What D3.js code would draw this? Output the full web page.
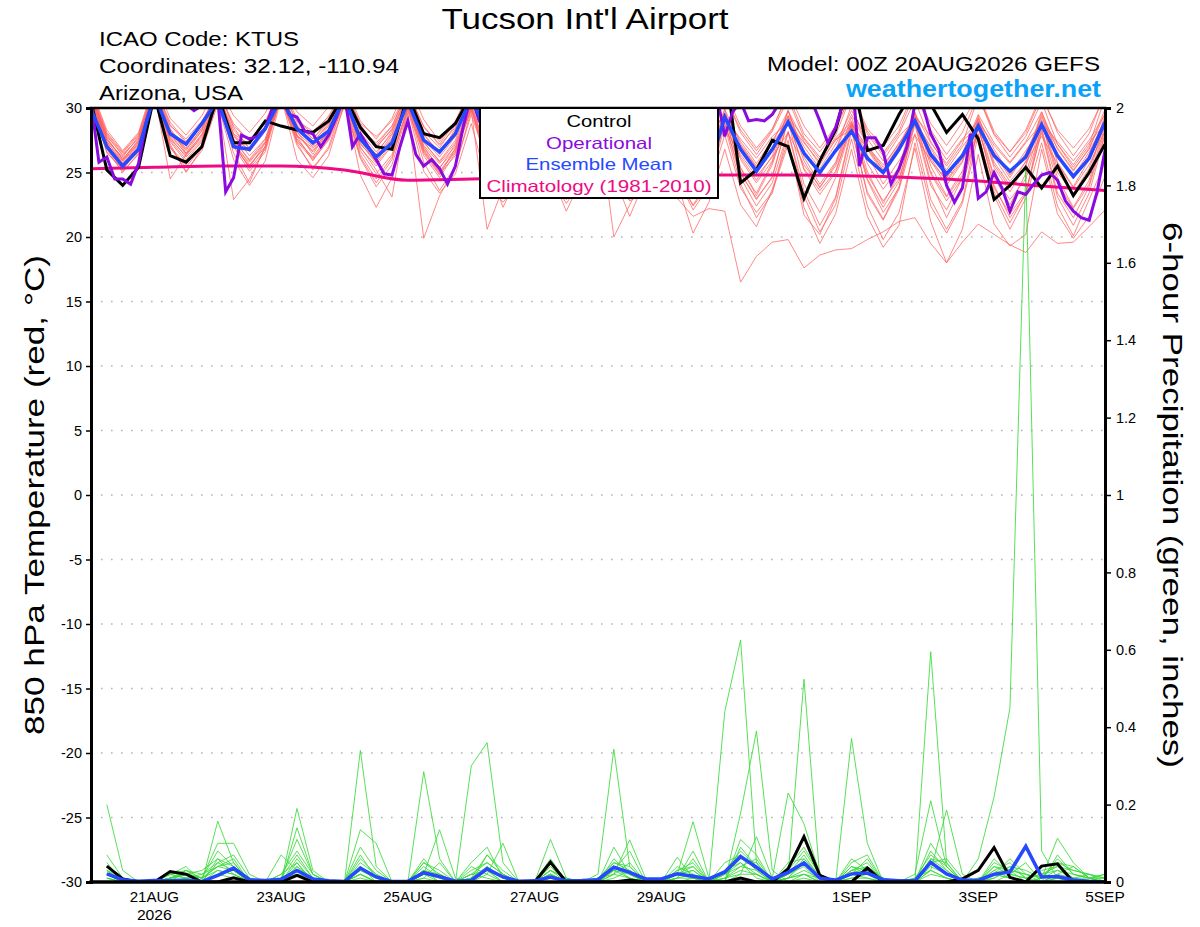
<!DOCTYPE html>
<html>
<head>
<meta charset="utf-8">
<script src="https://cdn.jsdelivr.net/npm/d3@7"></script>
<style>
body { margin: 0; background: #fff; }
svg { font-family: 'Liberation Sans', Arial, Helvetica, sans-serif; }
</style>
</head>
<body>
<svg id="chart" width="1200" height="927"></svg>
<script>
'use strict';

// 850 hPa temperature, 6-hourly from 00Z 20AUG2026 (65 steps), degC
var tMem01 = [31.2,27.8,26.4,27.6, 31.5,28.6,27.6,29.0, 31.0,28.0,27.2,28.9, 31.4,29.0,28.2,29.3, 31.1,28.4,27.3,28.6, 31.3,28.2,26.9,28.7, 31.0,28.8,27.5,29.0, 30.8,28.1,26.8,28.4, 30.6,27.9,26.3,28.0, 31.0,28.3,26.9,28.5, 29.2,27.6,26.1,27.8, 28.9,27.3,25.8,27.5, 28.7,27.0,25.6,27.2, 29.4,27.8,26.0,27.6, 29.0,27.1,25.7,27.3, 28.8,27.4,25.9,27.5, 29.5];
var tMem02 = [30.8,26.9,25.2,26.8, 31.0,27.2,25.0,26.9, 30.6,26.5,24.2,27.1, 31.2,28.2,26.4,28.3, 31.0,27.5,25.8,27.6, 30.7,27.0,25.3,27.2, 30.2,26.6,24.9,26.9, 30.5,27.3,25.6,27.5, 30.9,27.6,25.2,27.0, 30.3,26.8,24.7,26.6, 29.6,26.2,24.4,26.3, 29.8,26.5,24.8,26.7, 30.2,27.0,25.2,27.1, 29.4,25.9,24.0,25.8, 29.0,25.6,23.8,25.9, 29.7,26.3,24.5,26.4, 29.2];
var tMem03 = [31.0,27.4,25.9,27.3, 31.3,28.0,26.8,28.2, 31.0,27.8,26.7,28.5, 30.9,28.1,27.0,28.4, 31.2,27.7,26.2,27.9, 30.6,26.9,25.4,26.8, 30.1,26.0,24.2,25.8, 29.4,25.5,23.9,25.0, 28.6,24.3,22.8,23.5, 27.8,23.0,21.6,22.2, 22.0,16.5,18.5,19.6, 19.8,17.6,18.6,19.0, 19.1,19.8,20.4,21.2, 21.5,19.5,18.0,19.6, 21.0,20.2,19.4,18.8, 20.4,19.5,19.6,20.8, 22.1];
var tMem04 = [30.6,27.1,25.6,27.0, 30.9,27.5,26.0,27.4, 30.4,22.9,24.5,26.9, 31.0,27.8,25.9,27.6, 30.8,24.8,22.3,24.6, 29.6,19.9,23.2,25.4, 29.8,20.6,23.8,26.0, 28.9,24.8,22.9,25.6, 29.5,20.0,22.5,24.8, 28.6,24.2,20.3,22.7, 26.8,22.5,20.8,23.7, 27.5,21.7,20.2,23.0, 28.2,23.5,21.4,23.9, 28.7,24.0,22.1,24.6, 28.0,23.2,20.6,23.0, 27.3,22.4,20.1,22.9, 25.8];
var tMem05 = [31.5,28.3,26.7,28.1, 32.0,29.2,27.9,29.4, 31.8,29.4,28.1,29.6, 32.1,29.7,28.6,30.1, 31.9,29.0,27.6,29.2, 32.0,29.1,27.4,29.0, 31.6,28.9,27.0,28.8, 31.2,28.5,27.1,29.0, 31.4,28.7,27.0,28.9, 31.6,29.0,27.2,29.1, 31.3,28.6,26.9,28.4, 31.0,28.0,26.6,28.3, 31.2,28.4,27.0,28.6, 31.4,28.8,27.1,28.9, 31.1,28.2,26.6,28.1, 30.9,28.3,26.9,28.4, 31.0];
var tMem06 = [30.9,27.3,25.4,26.6, 31.2,24.5,26.4,27.9, 31.0,27.6,25.9,27.4, 31.3,27.9,26.6,28.1, 30.8,27.0,25.2,23.1, 30.3,26.5,24.8,26.9, 30.6,27.2,25.5,27.3, 30.2,26.8,25.0,26.7, 30.0,26.3,24.2,26.1, 29.7,26.0,24.0,25.8, 29.9,25.4,23.2,25.6, 29.4,25.9,23.8,25.7, 29.0,25.1,22.6,24.9, 29.6,25.5,23.2,25.1, 29.2,25.4,23.5,25.6, 29.5,25.8,23.9,26.0, 29.4];
var tMem07 = [31.1,27.6,26.1,27.4, 31.4,28.3,27.1,28.7, 31.2,27.9,26.3,27.6, 31.0,28.5,27.3,28.8, 31.3,28.1,26.6,28.0, 30.9,27.6,26.2,27.8, 31.0,27.9,26.5,28.1, 30.7,27.5,25.9,27.3, 30.9,27.2,25.6,27.4, 30.6,27.8,26.2,27.9, 29.6,27.4,25.7,27.5, 29.3,27.0,25.3,27.2, 29.8,27.6,25.9,27.8, 29.1,26.9,24.6,26.5, 29.5,27.3,25.8,27.4, 29.7,26.8,25.1,26.9, 29.9];
var tMem08 = [30.7,27.0,25.8,27.2, 31.1,27.7,26.2,27.5, 30.8,27.4,25.6,27.0, 31.0,27.6,26.1,27.7, 30.5,26.7,24.9,26.4, 30.1,25.8,23.6,25.5, 29.5,25.9,22.3,24.8, 29.8,26.2,24.5,26.4, 29.3,25.6,23.9,25.9, 29.6,26.0,24.4,26.2, 29.2,25.3,23.4,25.8, 29.0,24.1,21.9,24.6, 28.6,24.8,22.8,24.5, 28.9,24.3,21.5,24.0, 28.4,24.6,22.5,24.9, 28.8,25.0,23.4,25.3, 28.7];
var tMem09 = [31.3,28.0,26.5,27.9, 31.6,28.9,27.4,28.8, 31.4,28.6,27.5,29.0, 31.6,29.2,27.9,29.4, 31.5,28.8,27.8,29.0, 31.2,28.6,27.1,28.5, 31.3,28.4,26.8,28.6, 31.0,27.9,26.4,28.0, 31.1,28.2,26.6,28.3, 30.8,27.5,25.8,27.6, 31.0,28.1,26.4,28.2, 30.7,27.7,26.2,27.9, 31.0,28.0,26.3,28.0, 30.6,27.4,25.5,27.2, 30.9,27.9,26.2,27.8, 30.5,27.2,25.4,27.1, 30.8];
var tMem10 = [30.5,26.8,25.0,26.5, 30.8,26.9,25.4,27.0, 30.7,27.0,25.1,26.6, 30.9,26.0,24.6,26.3, 30.4,26.4,24.5,26.2, 29.9,25.1,23.4,24.9, 28.8,24.2,22.7,24.0, 29.2,25.0,22.0,24.6, 29.0,24.7,22.9,24.8, 28.5,24.4,22.5,24.3, 28.9,24.6,22.4,24.2, 28.2,23.6,20.9,23.1, 28.5,23.3,21.3,23.7, 28.0,22.9,20.6,22.8, 28.6,23.8,21.8,23.5, 28.1,23.1,20.9,23.4, 27.9];
var tMem11 = [31.0,27.5,26.2,27.8, 31.3,28.1,26.9,28.4, 31.1,28.3,26.9,28.3, 31.2,28.7,27.6,28.9, 31.4,28.3,27.0,28.3, 31.0,27.9,26.6,28.2, 30.8,27.4,26.0,27.6, 31.1,27.7,26.3,27.9, 30.7,27.0,25.3,27.2, 30.9,27.4,25.9,27.4, 28.6,27.1,25.4,26.9, 29.4,27.6,26.0,27.7, 28.9,26.8,24.9,26.6, 29.6,27.3,25.7,27.5, 28.4,26.6,24.8,26.4, 29.3,27.2,25.6,27.3, 28.8];
var tMem12 = [30.8,27.2,25.5,26.9, 31.0,27.4,25.8,27.1, 30.9,27.2,25.4,27.3, 31.1,27.3,25.2,27.0, 30.7,26.9,25.5,27.1, 30.5,26.7,25.0,26.6, 30.2,26.3,24.6,26.5, 30.4,26.9,25.2,26.8, 30.1,26.5,24.8,26.4, 30.3,26.9,25.3,27.0, 28.4,26.4,24.7,26.2, 28.1,25.6,23.9,25.5, 28.8,26.4,24.1,25.9, 27.9,25.9,24.4,26.1, 28.3,26.2,24.3,25.8, 27.8,25.7,23.8,25.6, 28.2];
var tMem13 = [30.9,27.4,25.7,27.1, 31.2,27.8,26.5,27.6, 30.9,27.5,26.0,27.6, 31.2,27.8,26.9,28.1, 31.0,27.2,25.9,27.4, 30.6,27.1,25.7,27.0, 30.4,26.5,24.9,26.2, 29.9,25.4,23.4,25.3, 29.1,24.8,21.6,24.5, 28.7,24.6,22.1,23.9, 27.9,23.8,21.9,23.5, 27.2,22.3,19.5,21.8, 26.8,21.6,19.2,20.9, 27.3,22.4,20.3,22.6, 27.9,23.5,21.1,23.4, 28.3,23.4,21.5,23.9, 28.0];
var tMem14 = [31.4,28.1,26.6,28.0, 31.7,28.7,27.3,28.9, 31.3,28.8,27.4,28.8, 31.5,28.9,27.6,29.1, 31.6,28.7,27.1,28.6, 31.4,28.5,27.2,28.9, 31.5,28.8,27.3,28.7, 31.2,28.4,26.9,28.4, 31.3,28.5,26.8,28.6, 31.4,28.6,27.0,28.9, 31.0,28.3,26.7,28.3, 31.3,28.6,26.9,28.6, 31.0,28.2,26.5,28.2, 31.2,28.3,26.4,28.1, 31.0,28.0,26.6,28.3, 31.1,28.1,26.3,28.0, 31.2];
var tMem15 = [30.6,26.5,25.3,27.0, 30.7,27.0,25.1,26.7, 30.3,26.0,24.0,25.9, 30.8,27.1,25.4,26.8, 30.2,26.1,23.9,25.6, 29.8,26.6,24.9,26.3, 30.0,25.5,23.4,25.0, 29.5,24.6,22.6,24.4, 29.7,25.2,23.6,25.5, 29.3,25.7,24.0,25.4, 29.5,25.0,22.9,24.7, 29.1,25.2,23.3,25.0, 28.8,24.4,21.9,23.8, 29.0,24.9,22.8,24.6, 28.5,24.0,21.5,23.3, 28.9,24.6,22.3,24.4, 28.6];
var tMem16 = [31.1,27.9,26.3,27.7, 31.5,28.4,26.5,28.3, 31.2,28.0,26.6,28.2, 31.3,28.4,27.1,28.6, 31.1,27.8,26.4,28.2, 30.9,27.3,25.9,27.5, 31.1,27.6,26.2,27.8, 30.6,27.0,25.3,27.1, 30.8,27.3,25.6,27.0, 30.5,26.9,25.1,26.9, 29.9,27.2,25.5,27.4, 28.7,26.6,24.9,26.7, 29.5,27.1,25.4,27.3, 28.8,26.4,24.6,26.3, 29.2,26.8,24.9,26.7, 28.5,26.5,24.7,26.6, 29.0];
var tMem17 = [30.7,27.1,25.9,27.3, 31.0,27.6,26.3,27.8, 30.6,27.0,25.5,27.0, 30.9,27.5,26.2,27.9, 30.6,27.3,25.7,27.2, 30.2,26.8,25.1,26.7, 29.9,26.2,24.5,25.9, 29.6,25.7,23.8,25.1, 29.3,25.3,23.0,24.9, 29.0,24.7,22.4,24.1, 28.6,24.1,21.5,23.4, 28.1,23.2,20.4,22.5, 27.6,22.4,19.8,21.9, 26.9,21.2,18.0,20.6, 26.4,21.0,19.3,20.2, 26.8,21.8,19.9,21.6, 24.7];
var tMem18 = [31.2,27.7,26.0,27.5, 31.4,28.2,26.7,28.5, 31.5,28.5,26.8,28.6, 31.1,28.6,27.4,28.7, 31.3,28.5,26.9,28.4, 31.1,28.0,26.4,28.4, 30.9,28.2,26.6,28.3, 30.8,27.8,26.0,27.9, 30.5,27.4,25.8,27.7, 30.8,27.7,26.1,28.0, 29.4,27.0,25.3,27.3, 29.8,27.4,25.6,27.6, 28.3,26.9,25.1,27.0, 29.0,27.0,25.2,27.0, 28.6,26.5,24.6,26.5, 29.1,26.9,25.2,26.8, 29.6];
var tMem19 = [30.4,26.6,25.1,26.4, 30.6,27.0,25.6,27.2, 30.5,27.1,25.8,27.3, 30.7,27.4,26.0,27.5, 30.3,26.2,24.2,26.0, 30.1,26.3,24.6,26.5, 29.9,25.8,23.9,25.6, 30.0,26.1,24.3,25.9, 29.6,25.4,23.3,25.2, 29.4,25.2,23.5,25.5, 28.8,24.9,23.0,24.6, 29.1,25.3,23.6,25.1, 28.7,24.5,22.3,24.3, 29.2,25.0,23.1,24.8, 28.9,24.7,22.9,24.5, 28.4,24.2,22.2,24.1, 28.3];
var tMem20 = [31.0,27.6,26.0,27.5, 31.2,28.0,26.4,28.0, 30.8,27.3,25.3,26.8, 31.1,27.9,26.7,28.3, 30.9,27.8,26.1,27.7, 30.6,27.4,25.8,27.3, 30.7,27.1,25.4,27.0, 30.3,26.6,24.7,26.2, 30.4,26.8,25.1,26.6, 30.0,26.3,24.5,26.1, 29.5,26.0,24.2,25.9, 29.8,26.2,24.1,25.8, 29.3,25.7,23.7,25.4, 29.7,26.1,24.3,25.9, 29.4,25.8,24.0,25.5, 29.0,25.3,23.2,24.8, 29.1];
var tempMembers = [tMem01, tMem02, tMem03, tMem04, tMem05, tMem06, tMem07, tMem08, tMem09, tMem10,
  tMem11, tMem12, tMem13, tMem14, tMem15, tMem16, tMem17, tMem18, tMem19, tMem20];

var tempControl = [30.5,25.2,24.0,25.4, 31.0,26.3,25.8,27.0, 31.0,27.3,27.3,29.0, 28.6,28.3,28.1,29.0, 31.0,28.5,27.0,26.8, 31.0,28.0,27.7,28.8, 31.0,29.0,27.8,28.6, 31.0,28.3,27.5,28.9, 31.0,28.0,27.2,28.5, 31.0,28.1,27.0,28.4, 33.5,24.2,25.2,27.5, 27.0,23.0,25.9,28.3, 33.0,26.7,27.1,29.5, 31.5,30.3,28.1,29.5, 27.6,22.9,24.0,25.4, 23.8,25.5,23.2,25.0, 27.2];
var tempMean = [29.9,27.0,25.5,26.8, 31.0,28.0,27.2,28.8, 30.6,27.0,26.8,28.4, 30.8,28.4,27.3,28.2, 30.8,27.6,26.2,27.3, 30.5,27.5,26.6,28.0, 30.8,28.0,26.9,28.2, 30.4,27.8,26.6,28.0, 30.2,27.6,26.4,27.9, 30.0,27.5,26.0,25.2, 29.3,26.8,25.1,26.8, 28.9,26.5,25.0,26.7, 28.2,26.1,25.0,26.8, 29.0,26.4,24.9,26.3, 28.6,26.3,25.1,26.2, 28.7,26.3,24.7,26.1, 28.9];
// operational run is 3-hourly (129 steps)
var tempOper = [30.5,25.8,26.2,24.5,24.5,24.1,25.7,29.0, 31.0,31.2,30.8,30.6,30.3,29.8,30.2,30.6,
  30.8,23.5,24.6,27.9,27.6,27.8,28.4,30.2, 31.0,29.5,29.3,28.2,28.0,27.0,27.9,29.3,
  31.0,27.0,28.0,27.0,26.0,24.9,24.8,27.0, 29.0,26.4,25.5,26.0,25.3,24.1,25.5,28.6,
  31.0,29.0,28.1,27.4,26.8,27.9,30.3,30.8, 29.2,28.0,27.1,27.6,28.9,30.6,31.0,29.6,
  28.3,27.5,26.9,28.0,29.5,30.7,30.9,29.4, 28.2,27.3,26.6,27.8,29.1,30.4,29.5,31.0,
  27.8,29.7,30.5,29.0,29.1,29.0,29.5,30.5, 31.0,31.2,30.6,30.5,29.0,27.3,28.5,30.5,
  33.0,25.5,27.7,27.7,26.6,24.1,25.3,27.0, 30.3,30.2,28.0,26.8,24.0,22.7,23.8,28.0,
  23.0,23.5,25.0,23.8,22.0,23.5,23.3,24.1, 24.8,25.0,24.4,22.8,22.0,21.5,21.3,23.5,
  26.7];
// 1981-2010 climatology, daily at 00Z
var tempClim = [25.3,25.4,25.5,25.5,25.2,24.4,24.5,24.6,24.7,24.8,24.8,24.8,24.75,24.6,24.35,23.95,23.6];

// 6-hour precipitation (inches), 64 steps ending 06Z 20AUG .. 00Z 5SEP
var pMem01 = [.20,.03,0,0,.01,.02,.03,.06, .02,0,0,.01,.11,.02,0,0, .09,.03,0,0,.02,0,0,.01, .03,0,0,0,.01,0,0,.02, .343,.04,0,0,0,.01,0,.02, .05,.02,0,.01,.06,.01,0,.02, .01,0,0,.02,.21,.04,0,0, .02,.01,0,0,.01,0,0,0];
var pMem02 = [.07,.01,0,0,.02,.01,0,.157, .05,0,0,0,.19,.03,0,0, .02,0,0,0,.285,.06,0,0, .07,.02,0,0,.02,0,0,.01, .02,.109,.01,0,.02,.01,0,0, .178,.39,.03,0,.01,0,0,.03, .02,0,0,0,.03,.01,0,0, 0,.02,.05,0,.02,.01,0,0];
var pMem03 = [.05,0,0,0,.01,.03,.01,.10, .10,.02,0,0,.04,0,0,0, .34,.04,0,0,.05,.02,0,.30, .36,.05,0,0,.02,0,0,0, .09,.02,0,0,.064,.01,0,.44, .625,.05,0,.01,.02,0,0,.371, .10,0,0,0,.595,.05,0,.06, .22,.45,1.84,.08,.01,0,0,0];
var pMem04 = [.02,0,0,0,0,.01,.02,.05, .07,.01,0,0,.14,.02,0,0, .135,.10,0,0,.02,.135,.01,0, .02,.10,0,0,.11,.01,0,.01, .03,.08,0,0,.02,.156,.01,0, .02,.117,.01,.23,.15,.02,0,.02, .03,0,0,.01,.03,.186,.02,0, .01,.03,.02,.01,.113,.05,.01,0];
var pMem05 = [.03,.01,0,0,.02,.04,0,.02, .03,0,0,.07,.03,.01,0,0, .05,.02,0,0,.03,.01,0,.01, .04,.01,0,0,.06,0,0,0, .05,.03,0,0,.03,.05,0,.01, .03,.02,0,.02,.524,.01,0,.01, .01,0,0,0,.05,.02,0,0, .04,.02,.01,.03,.04,.01,.02,.01];
var pMem06 = [.01,0,0,0,.01,.02,.01,.04, .05,0,0,.01,.02,.01,0,0, .03,.01,0,0,.01,.05,0,0, .03,0,0,0,.02,0,0,0, .06,.02,0,0,.01,.02,0,0, .09,.04,0,.01,.05,.01,0,.06, .03,0,0,0,.08,.03,0,0, .05,.03,0,.01,.03,.02,.01,.02];
var pMem07 = [.04,.01,0,0,.02,.01,0,.03, .02,0,0,.02,.05,0,0,0, .06,.02,0,0,.04,.01,0,.02, .05,.02,0,0,.03,.01,0,.01, .04,.01,0,0,.02,.03,0,.02, .04,.06,0,.03,.08,.02,0,.04, .02,.01,0,0,.06,.03,0,0, .03,.01,0,.01,.05,.03,.02,0];
var pMem08 = [.02,0,0,0,.01,.02,.01,.08, .04,0,0,.01,.07,.01,0,0, .02,0,0,0,.06,.01,0,.04, .02,0,0,0,.01,0,0,0, .02,.05,0,0,.01,.08,0,0, .11,.07,0,.01,.02,.01,0,.03, .05,0,0,0,.04,.02,0,.01, .02,.06,.02,0,.02,.04,.01,0];
var pMem09 = [.03,0,0,0,0,.03,.02,.04, .06,0,0,0,.02,0,0,0, .04,0,0,0,.03,0,0,.01, .07,.03,0,0,.03,0,0,0, .01,.03,0,0,.04,.02,0,.05, .07,.03,0,.02,.04,0,0,.05, .07,0,0,0,.02,.01,0,0, .01,.04,.03,.01,.06,.02,.01,.01];
var pMem10 = [.01,0,0,0,.01,.01,0,.05, .03,0,0,0,.04,.01,0,0, .03,.01,0,0,.02,.02,0,0, .04,.01,0,0,.02,0,0,0, .03,.02,0,0,.02,.03,0,.01, .02,.02,0,.01,.03,.01,0,.02, .04,0,0,0,.10,.04,0,0, .06,.02,.01,.02,.03,.01,.01,.02];
var pMem11 = [.02,.01,0,0,0,.01,0,.02, .01,0,0,0,.03,0,0,0, .01,0,0,0,.01,0,0,.02, .01,0,0,0,0,0,0,0, .02,.01,0,0,.01,.01,0,.03, .05,.01,0,0,.02,0,0,.01, .02,0,0,0,.03,.01,0,0, .02,.01,0,0,.01,.01,0,0];
var pMem12 = [.03,0,0,0,.01,.02,.01,.03, .02,0,0,0,.05,0,0,0, .02,0,0,0,.02,.01,0,.05, .09,.01,0,0,.02,0,0,.01, .05,.04,0,0,.03,.04,0,.02, .06,.05,0,.04,.09,.02,0,.02, .06,0,0,.01,.07,.04,0,0, .03,.05,.01,.02,.04,.03,.02,.01];
var pMem13 = [.01,0,0,0,.02,.03,0,.06, .04,.01,0,0,.06,.01,0,0, .04,.01,0,0,.03,.02,0,.03, .05,.02,0,0,.03,.01,0,0, .04,.02,0,0,.01,.06,0,.03, .08,.04,0,.02,.07,.01,0,.03, .04,.01,0,0,.05,.06,.01,0, .04,.03,.02,.01,.05,.04,.01,.01];
var pMem14 = [.02,0,0,0,.01,.02,.01,.04, .03,0,0,.02,.08,.02,0,0, .07,.01,0,0,.05,.03,0,.02, .03,.01,0,0,.04,0,0,0, .03,.01,0,0,.02,.04,0,.01, .04,.03,0,.05,.06,.02,0,.04, .03,0,0,0,.06,.05,0,.01, .02,.04,.01,0,.07,.02,.01,0];
var precipMembers = [pMem01, pMem02, pMem03, pMem04, pMem05, pMem06, pMem07,
  pMem08, pMem09, pMem10, pMem11, pMem12, pMem13, pMem14];

var precipControl = [.041,.008,0,0,.027,.020,0,0, .011,0,0,0,.017,0,0,0, 0,0,0,0,0,0,0,0, 0,0,0,0,.051,0,0,0, 0,.005,0,0,0,0,0,0, .010,0,0,.034,.117,.017,0,0, .036,0,0,0,0,0,.008,.030, .089,.012,0,.041,.047,0,0,0];
var precipMean = [.021,.006,.002,.004,.003,.004,.001,.017, .036,.006,.004,.007,.030,.008,.003,.001, .036,.013,.001,.002,.024,.014,.002,.004, .034,.013,.002,.003,.013,.003,.004,.006, .038,.025,.008,.008,.021,.015,.008,.026, .066,.038,.008,.025,.049,.010,.005,.021, .023,.006,.003,.003,.051,.021,.005,.004, .020,.026,.092,.013,.014,.005,.002,0];

var tempTicks = [-30,-25,-20,-15,-10,-5,0,5,10,15,20,25,30];
var precipTicks = [0,0.2,0.4,0.6,0.8,1,1.2,1.4,1.6,1.8,2];
var dateTicks = ['2026-08-21','2026-08-23','2026-08-25','2026-08-27','2026-08-29','2026-09-01','2026-09-03','2026-09-05'];
var dateLabels = ['21AUG','23AUG','25AUG','27AUG','29AUG','1SEP','3SEP','5SEP'];

var legendItems = ['Control', 'Operational', 'Ensemble Mean', 'Climatology (1981-2010)'];
var legendColors = ['#000000', '#8a0ae0', '#2648ff', '#ee0a82'];

var plotLeft = 91, plotRight = 1105, plotTop = 108, plotBottom = 882;
var startTime = Date.UTC(2026, 7, 20, 0);

function stepTime(i, hours) {
	return new Date(startTime + i * hours * 3600000);
}

// GrADS text is drawn wider than Arial, so widths are pinned to the reference
function wide(sel, width) {
	sel.attr('textLength', width).attr('lengthAdjust', 'spacingAndGlyphs');
}

var x = d3.scaleUtc().domain([stepTime(0, 1), stepTime(16, 24)]).range([plotLeft, plotRight]);
var yT = d3.scaleLinear().domain([-30, 30]).range([plotBottom, plotTop]);
var yP = d3.scaleLinear().domain([0, 2]).range([plotBottom, plotTop]);

var svg = d3.select('#chart');
svg.append('rect').attr('width', 1200).attr('height', 927).attr('fill', '#fff');

svg.append('defs').append('clipPath').attr('id', 'plotclip').append('rect')
	.attr('x', plotLeft).attr('y', plotTop).attr('width', plotRight - plotLeft).attr('height', plotBottom - plotTop);

// dotted grid on the temperature ticks
svg.append('g').selectAll('line').data(tempTicks.filter(function(d) { return d > -30 && d < 30; }))
	.enter().append('line')
	.attr('x1', plotLeft).attr('x2', plotRight)
	.attr('y1', function(d) { return yT(d); }).attr('y2', function(d) { return yT(d); })
	.attr('stroke', '#b4b4b4').attr('stroke-width', 1.6).attr('stroke-dasharray', '1.6,8.4');

var plot = svg.append('g').attr('clip-path', 'url(#plotclip)');

var line6T = d3.line().x(function(d, i) { return x(stepTime(i, 6)); }).y(function(d) { return yT(d); });
var line3T = d3.line().x(function(d, i) { return x(stepTime(i, 3)); }).y(function(d) { return yT(d); });
var lineClim = d3.line().x(function(d, i) { return x(stepTime(i, 24)); }).y(function(d) { return yT(d); })
	.curve(d3.curveMonotoneX);
var line6P = d3.line().x(function(d, i) { return x(stepTime(i + 1, 6)); }).y(function(d) { return yP(d); });

// ensemble members
plot.append('g').selectAll('path').data(tempMembers).enter().append('path')
	.attr('d', line6T).attr('fill', 'none').attr('stroke', '#ff6262').attr('stroke-width', 0.75);
plot.append('g').selectAll('path').data(precipMembers).enter().append('path')
	.attr('d', line6P).attr('fill', 'none').attr('stroke', '#3ada3a').attr('stroke-width', 0.85);

plot.append('path').datum(tempClim).attr('d', lineClim).attr('fill', 'none')
	.attr('stroke', legendColors[3]).attr('stroke-width', 3);

plot.append('path').datum(precipControl).attr('d', line6P).attr('fill', 'none')
	.attr('stroke', legendColors[0]).attr('stroke-width', 3);
plot.append('path').datum(precipMean).attr('d', line6P).attr('fill', 'none')
	.attr('stroke', legendColors[2]).attr('stroke-width', 3.5);

plot.append('path').datum(tempControl).attr('d', line6T).attr('fill', 'none')
	.attr('stroke', legendColors[0]).attr('stroke-width', 3);
plot.append('path').datum(tempOper).attr('d', line3T).attr('fill', 'none')
	.attr('stroke', legendColors[1]).attr('stroke-width', 3);
plot.append('path').datum(tempMean).attr('d', line6T).attr('fill', 'none')
	.attr('stroke', legendColors[2]).attr('stroke-width', 3.5);

// axes
var leftAxis = svg.append('g').attr('transform', 'translate(' + plotLeft + ',0)')
	.call(d3.axisLeft(yT).tickValues(tempTicks).tickSize(5).tickPadding(4).tickFormat(String));
var rightAxis = svg.append('g').attr('transform', 'translate(' + plotRight + ',0)')
	.call(d3.axisRight(yP).tickValues(precipTicks).tickSize(6).tickPadding(5)
		.tickFormat(function(d) { return String(+d.toFixed(1)); }));
[leftAxis, rightAxis].forEach(function(a) {
	a.select('.domain').attr('stroke-width', 3);
	a.selectAll('.tick line').attr('stroke-width', 1.5);
	a.selectAll('text').attr('font-size', 14.5).attr('fill', '#000')
		.attr('font-family', "'Liberation Sans', Arial, sans-serif");
});

svg.append('line').attr('x1', plotLeft - 1.5).attr('x2', plotRight + 1.5).attr('y1', plotTop).attr('y2', plotTop)
	.attr('stroke', '#000').attr('stroke-width', 2.5);
svg.append('line').attr('x1', plotLeft - 1.5).attr('x2', plotRight + 1.5).attr('y1', plotBottom).attr('y2', plotBottom)
	.attr('stroke', '#000').attr('stroke-width', 3.5);

var dates = svg.append('g').attr('font-size', 14.5).attr('text-anchor', 'middle');
dates.selectAll('text').data(dateTicks).enter().append('text')
	.attr('x', function(d) { return x(new Date(d + 'T00:00:00Z')); })
	.attr('y', 902)
	.text(function(d, i) { return dateLabels[i]; })
	.each(function(d, i) { wide(d3.select(this), dateLabels[i].length * 9.9); });
wide(dates.append('text').attr('x', x(new Date(dateTicks[0] + 'T00:00:00Z'))).attr('y', 920).text('2026'), 35);

// legend box
var legendWidths = [65, 106, 147, 225];
var legend = svg.append('g');
legend.append('rect').attr('x', 480).attr('y', plotTop).attr('width', 238).attr('height', 90)
	.attr('fill', '#fff').attr('stroke', '#000').attr('stroke-width', 2);
legend.selectAll('text').data(legendItems).enter().append('text')
	.attr('x', 599).attr('y', function(d, i) { return 127 + i * 21.6; })
	.attr('text-anchor', 'middle').attr('font-size', 16.5)
	.attr('fill', function(d, i) { return legendColors[i]; })
	.text(function(d) { return d; })
	.each(function(d, i) { wide(d3.select(this), legendWidths[i]); });

// titles
wide(svg.append('text').attr('x', 585).attr('y', 29).attr('text-anchor', 'middle')
	.attr('font-size', 30).text("Tucson Int'l Airport"), 287);
var info = ['ICAO Code: KTUS', 'Coordinates: 32.12, -110.94', 'Arizona, USA'];
var infoWidths = [200, 300, 144];
svg.append('g').selectAll('text').data(info).enter().append('text')
	.attr('x', 99).attr('y', function(d, i) { return 46 + i * 27; })
	.attr('font-size', 20).text(function(d) { return d; })
	.each(function(d, i) { wide(d3.select(this), infoWidths[i]); });
wide(svg.append('text').attr('x', 1100).attr('y', 71).attr('text-anchor', 'end')
	.attr('font-size', 20).text('Model: 00Z 20AUG2026 GEFS'), 333);
wide(svg.append('text').attr('x', 1101).attr('y', 97).attr('text-anchor', 'end')
	.attr('font-size', 23).attr('font-weight', 'bold').attr('fill', '#0aa2f7')
	.text('weathertogether.net'), 255);

wide(svg.append('text').attr('transform', 'translate(44,' + ((plotTop + plotBottom) / 2) + ') rotate(-90)')
	.attr('text-anchor', 'middle').attr('font-size', 28).text('850 hPa Temperature (red, \u00b0C)'), 480);
wide(svg.append('text').attr('transform', 'translate(1163,' + ((plotTop + plotBottom) / 2) + ') rotate(90)')
	.attr('text-anchor', 'middle').attr('font-size', 28).text('6-hour Precipitation (green, inches)'), 546);
</script>
</body>
</html>
